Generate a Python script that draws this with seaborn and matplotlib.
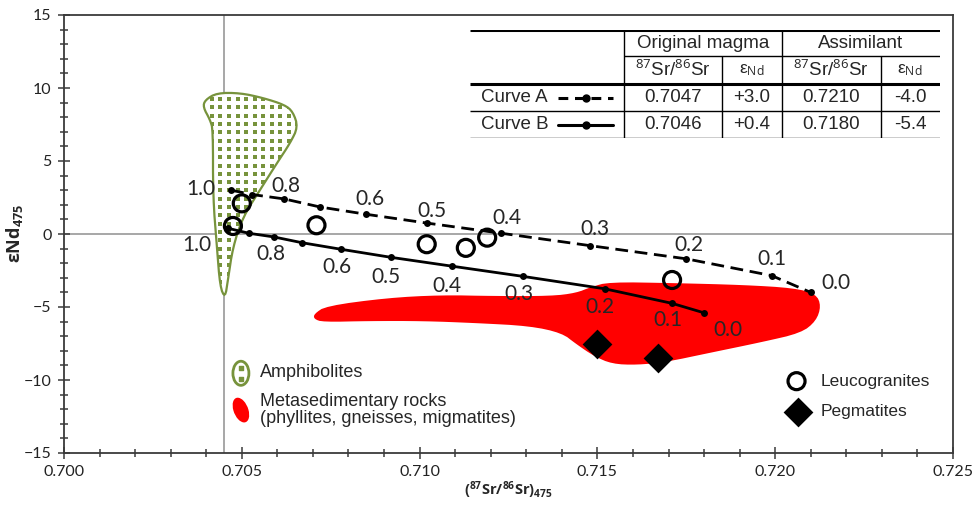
import numpy as np
import pandas as pd
import matplotlib
matplotlib.use("Agg")
import matplotlib.pyplot as plt
import seaborn as sns
from matplotlib.patches import Polygon, Ellipse

# ---- data ----
mix_frac = [1.0, 0.9, 0.8, 0.7, 0.6, 0.5, 0.4, 0.3, 0.2, 0.1, 0.0]
labelled = ["1.0", "0.8", "0.6", "0.5", "0.4", "0.3", "0.2", "0.1", "0.0"]

curve_a_sr = [0.7047, 0.7053, 0.7062, 0.7072, 0.7085, 0.7102, 0.7123, 0.7148, 0.7175, 0.7199, 0.7210]
curve_a_nd = [3.0, 2.7, 2.4, 1.85, 1.35, 0.75, 0.05, -0.8, -1.7, -2.85, -4.0]
curve_b_sr = [0.7046, 0.7052, 0.7059, 0.7067, 0.7078, 0.7092, 0.7109, 0.7129, 0.7152, 0.7171, 0.7180]
curve_b_nd = [0.4, 0.05, -0.2, -0.6, -1.05, -1.6, -2.2, -2.9, -3.75, -4.75, -5.4]

leuco_sr = [0.7050, 0.70475, 0.7071, 0.7102, 0.7113, 0.7119, 0.7171]
leuco_nd = [2.1, 0.55, 0.6, -0.7, -0.95, -0.25, -3.15]
pegm_sr = [0.7150, 0.7167]
pegm_nd = [-7.5, -8.5]

amph_sr = [0.70397, 0.70430, 0.70495, 0.70560, 0.70621, 0.70644, 0.70658, 0.70636, 0.70599,
           0.70551, 0.70503, 0.70475, 0.70461, 0.70453, 0.70439, 0.70430, 0.70419, 0.70419,
           0.70411, 0.70391]
amph_nd = [9.18, 9.66, 9.66, 9.32, 8.84, 8.36, 7.33, 6.23, 4.86, 3.01, 1.16, -0.89, -3.15,
           -4.38, -3.63, -0.89, 2.53, 7.12, 7.81, 8.70]

meta_sr = [0.70703, 0.70737, 0.70908, 0.71060, 0.71209, 0.71370, 0.71440, 0.71482, 0.71533,
           0.71713, 0.71912, 0.72053, 0.72115, 0.72129, 0.72115, 0.72073, 0.71963, 0.71814,
           0.71693, 0.71611, 0.71541, 0.71490, 0.71440, 0.71400, 0.71310, 0.71159, 0.71010,
           0.70858, 0.70728, 0.70703]
meta_nd = [-5.48, -4.93, -4.38, -4.18, -4.25, -4.25, -4.04, -3.63, -3.29, -3.36, -3.49, -3.70,
           -4.11, -4.93, -5.96, -6.78, -7.40, -8.15, -8.77, -8.97, -8.90, -8.36, -7.53, -6.78,
           -6.30, -6.10, -5.96, -5.96, -6.03, -5.82]

table_curves = ["Curve A", "Curve B"]
magma_sr = ["0.7047", "0.7046"]
magma_nd = ["+3.0", "+0.4"]
assim_sr = ["0.7210", "0.7180"]
assim_nd = ["-4.0", "-5.4"]

# label offsets (points) for the mixing fractions
off_a = [(-22, 1), (1, 9), (3, 11), (4, 9), (4, 11), (3, 12), (2, 10), (0, 12), (18, 7)]
off_b = [(-22, -12), (-2, -12), (-3, -13), (-4, -14), (-3, -14), (-3, -13), (-3, -13), (-3, -12), (17, -12)]

sns.set_theme(style="ticks")
plt.rcParams["font.family"] = ["Liberation Sans", "DejaVu Sans"]
plt.rcParams["mathtext.fontset"] = "custom"
plt.rcParams["mathtext.rm"] = "Open Sans"
plt.rcParams["mathtext.bf"] = "Open Sans:bold"
plt.rcParams["mathtext.it"] = "Open Sans:italic"

GREEN = "#77933c"
AX_COL = "#3a3a3a"


def chaikin(xs, ys, n=2):
    pts = np.column_stack([xs, ys])
    for _ in range(n):
        q = np.roll(pts, -1, axis=0)
        new = np.empty((2 * len(pts), 2))
        new[0::2] = 0.75 * pts + 0.25 * q
        new[1::2] = 0.25 * pts + 0.75 * q
        pts = new
    return pts


fig = plt.figure(figsize=(9.75, 5.05), dpi=100)
ax = fig.add_axes([64 / 975, 52 / 505, 889 / 975, 438 / 505])

ax.set_xlim(0.700, 0.725)
ax.set_ylim(-15, 15)
ax.axhline(0, color="#a0a0a0", lw=1.3, zorder=0)
ax.axvline(0.7045, color="#a0a0a0", lw=1.3, zorder=0)

# metasedimentary field
meta = Polygon(chaikin(meta_sr, meta_nd), closed=True, facecolor="#ff0000", edgecolor="none", zorder=1)
ax.add_patch(meta)

# amphibolite field with dotted fill
amph = Polygon(chaikin(amph_sr, amph_nd), closed=True, facecolor="white", edgecolor=GREEN, lw=1.6, zorder=2)
ax.add_patch(amph)
gx, gy = np.meshgrid(np.arange(0.70392, 0.70680, 0.00024), np.arange(-5.0, 10.0, 0.57))
dots = ax.scatter(gx.ravel(), gy.ravel(), marker="s", s=10, color=GREEN, linewidths=0, zorder=2.5)
dots.set_clip_path(amph)

# mixing curves
dfa = pd.DataFrame({"sr": curve_a_sr, "nd": curve_a_nd})
dfb = pd.DataFrame({"sr": curve_b_sr, "nd": curve_b_nd})
sns.lineplot(data=dfa, x="sr", y="nd", sort=False, estimator=None, color="black", lw=2.0,
             marker="o", markersize=5, markeredgewidth=0, ax=ax, zorder=4)
ax.lines[-1].set_dashes((4.6, 2.4))
sns.lineplot(data=dfb, x="sr", y="nd", sort=False, estimator=None, color="black", lw=2.0,
             marker="o", markersize=5, markeredgewidth=0, ax=ax, zorder=4)

for lab, (dx, dy) in zip(labelled, off_a):
    i = mix_frac.index(float(lab))
    ax.annotate(lab, (curve_a_sr[i], curve_a_nd[i]), xytext=(dx, dy), textcoords="offset points",
                ha="center", va="center", fontsize=15, family="Lato", zorder=6)
for lab, (dx, dy) in zip(labelled, off_b):
    i = mix_frac.index(float(lab))
    ax.annotate(lab, (curve_b_sr[i], curve_b_nd[i]), xytext=(dx, dy), textcoords="offset points",
                ha="center", va="center", fontsize=15, family="Lato", zorder=6)

# samples
sns.scatterplot(x=leuco_sr, y=leuco_nd, marker="o", s=150, facecolor="none", edgecolor="black",
                linewidth=2.3, ax=ax, zorder=5)
sns.scatterplot(x=pegm_sr, y=pegm_nd, marker="D", s=230, color="black", linewidth=0, ax=ax, zorder=5)

# axes styling
ax.set_xticks(np.arange(0.700, 0.7251, 0.005))
ax.set_xticks(np.arange(0.700, 0.7251, 0.001), minor=True)
ax.set_yticks(np.arange(-15, 16, 5))
ax.set_yticks(np.arange(-15, 16, 1), minor=True)
ax.set_xticklabels([f"{v:.3f}" for v in np.arange(0.700, 0.7251, 0.005)])
ax.tick_params(which="major", direction="inout", length=8, width=1.1, color=AX_COL, labelsize=11.5, pad=5)
ax.tick_params(which="minor", direction="inout", length=6, width=1.1, color=AX_COL)
for lab in ax.get_xticklabels() + ax.get_yticklabels():
    lab.set_family("Lato")
    lab.set_color("#222222")
for sp in ax.spines.values():
    sp.set_color(AX_COL)
    sp.set_linewidth(1.3)

ax.set_xlabel(r"$\mathbf{(^{87}Sr/^{86}Sr)_{475}}$", fontsize=10.5, labelpad=0)
ax.set_ylabel(r"$\mathbf{\epsilon Nd}_{\mathbf{475}}$", fontsize=13, labelpad=-1)

# legends inside the plot
T = ax.transAxes
ax.add_patch(Ellipse((0.199, 0.182), 0.018, 0.055, transform=T, facecolor="white",
                     edgecolor=GREEN, lw=2, zorder=6))
ax.scatter([0.199, 0.199], [0.195, 0.168], transform=T, marker="s", s=10, color=GREEN, zorder=7)
ax.text(0.220, 0.184, "Amphibolites", transform=T, fontsize=13, va="center")
ax.add_patch(Ellipse((0.199, 0.098), 0.017, 0.057, angle=8, transform=T, facecolor="#ff0000",
                     edgecolor="none", zorder=6))
ax.text(0.220, 0.117, "Metasedimentary rocks", transform=T, fontsize=13, va="center")
ax.text(0.220, 0.078, "(phyllites, gneisses, migmatites)", transform=T, fontsize=13, va="center")

ax.scatter([0.824], [0.164], transform=T, marker="o", s=150, facecolor="none", edgecolor="black", lw=2.3)
ax.scatter([0.826], [0.094], transform=T, marker="D", s=230, color="black", lw=0)
ax.text(0.851, 0.164, "Leucogranites", transform=T, fontsize=12.5, va="center")
ax.text(0.851, 0.094, "Pegmatites", transform=T, fontsize=12.5, va="center")

# table of end-members (pixel-like frame: x 470-940, y 30-138)
tab = fig.add_axes([470 / 975, 1 - 138 / 505, 470 / 975, 108 / 505])
tab.set_xlim(470, 940)
tab.set_ylim(138, 30)
tab.axis("off")
tab.patch.set_visible(False)
tab.hlines([30, 84], 470, 940, color="black", lw=2.2)
tab.hlines(56, 624, 940, color="black", lw=1.0)
tab.hlines([111, 138], 470, 940, color="black", lw=1.0)
tab.vlines([624, 782], 30, 138, color="black", lw=1.0)
tab.vlines([722, 881], 56, 138, color="black", lw=1.0)
fs = 13.5
tab.text(703, 43, "Original magma", ha="center", va="center", fontsize=fs)
tab.text(861, 43, "Assimilant", ha="center", va="center", fontsize=fs)
for cx in (673, 831):
    tab.text(cx, 70, r"$^{87}$Sr/$^{86}$Sr", ha="center", va="center", fontsize=fs)
for cx in (752, 910):
    tab.text(cx, 70, r"ε$_{\mathrm{Nd}}$", ha="center", va="center", fontsize=fs - 1)
for j, row_y in enumerate([97.5, 124.5]):
    tab.text(481, row_y, table_curves[j], ha="left", va="center", fontsize=fs)
    tab.text(673, row_y, magma_sr[j], ha="center", va="center", fontsize=fs)
    tab.text(752, row_y, magma_nd[j], ha="center", va="center", fontsize=fs)
    tab.text(831, row_y, assim_sr[j], ha="center", va="center", fontsize=fs)
    tab.text(910, row_y, assim_nd[j], ha="center", va="center", fontsize=fs)
    ln, = tab.plot([558, 613], [row_y, row_y], color="black", lw=2.2)
    if j == 0:
        ln.set_dashes((3.2, 2.2))
    tab.plot([585.5], [row_y], "o", color="black", ms=5)

fig.savefig("out.png", dpi=100)
